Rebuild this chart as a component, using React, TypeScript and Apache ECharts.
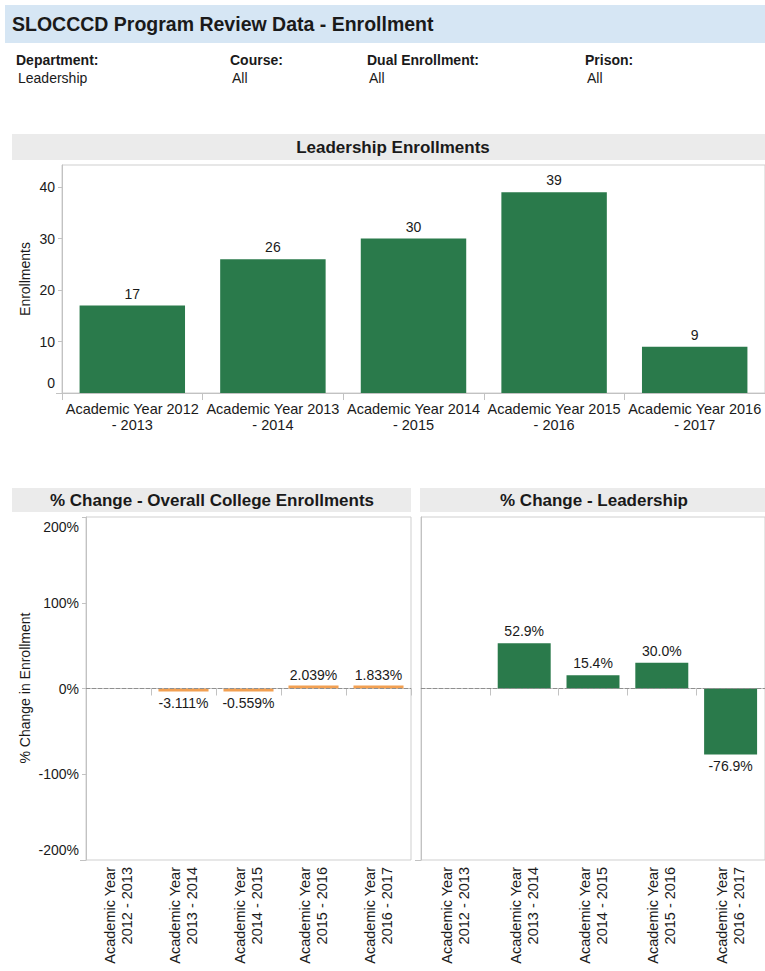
import React, { useEffect, useRef } from 'react';
import * as echarts from 'echarts';

const FONT = '"Liberation Sans", Arial, Helvetica, sans-serif';

const years = ['2012 - 2013', '2013 - 2014', '2014 - 2015', '2015 - 2016', '2016 - 2017'];
const enrollments = [17, 26, 30, 39, 9];
const collegeChange: (number | null)[] = [null, -3.111, -0.559, 2.039, 1.833];
const leadershipChange: (number | null)[] = [null, 52.9, 15.4, 30.0, -76.9];
const filterLabels = ['Department:', 'Course:', 'Dual Enrollment:', 'Prison:'];
const filterValues = ['Leadership', 'All', 'All', 'All'];
const filterX = [16, 230, 367, 585];

const GREEN = '#2a7a4b';
const ORANGE = '#f2a052';
const AXIS = '#c2c2c2';
const TEXT = '#1a1a1a';

const topCats = years.map((y) => 'Academic Year ' + y.replace(' - ', '\n- '));
const bottomCats = years.map((y) => 'Academic Year\n' + y);

function pctItems(vals: (number | null)[], decimals: number, color: string) {
  return vals.map((v) =>
    v === null
      ? { value: '-' }
      : {
          value: v,
          itemStyle: { color },
          label: {
            show: true,
            position: v < 0 ? 'bottom' : 'top',
            formatter: v.toFixed(decimals) + '%',
          },
        }
  );
}

export default function App() {
  const ref = useRef<HTMLDivElement>(null);
  useEffect(() => {
    if (!ref.current) return;
    const chart = echarts.init(ref.current, null, { renderer: 'svg' });
    const labelStyle = { fontFamily: FONT, fontSize: 14, color: TEXT };
    const pctAxis = (showLabels: boolean, gridIndex: number) => ({
      type: 'value',
      gridIndex,
      min: -200,
      max: 200,
      interval: 100,
      axisLine: { show: true, lineStyle: { color: AXIS } },
      axisTick: { show: showLabels, length: 4, lineStyle: { color: AXIS } },
      splitLine: { show: false },
      axisLabel: {
        show: showLabels,
        margin: 7,
        ...labelStyle,
        formatter: (v: number) =>
          v === 200 ? '{hi|200%}' : v === -200 ? '{lo|-200%}' : v + '%',
        rich: {
          hi: { ...labelStyle, padding: [20, 0, 0, 0] },
          lo: { ...labelStyle, padding: [0, 0, 20, 0] },
        },
      },
    });
    const bottomX = (gridIndex: number) => ({
      type: 'category',
      gridIndex,
      data: bottomCats,
      axisLine: { show: true, lineStyle: { color: AXIS } },
      axisTick: { show: true, length: 7, lineStyle: { color: AXIS } },
      axisLabel: {
        rotate: 90,
        interval: 0,
        margin: 7,
        lineHeight: 17,
        ...labelStyle,
        fontSize: 14.5,
      },
    });
    const zeroLine = {
      silent: true,
      symbol: ['none', 'none'],
      label: { show: false },
      lineStyle: { type: 'dashed', color: '#8f8f8f', width: 1 },
      data: [{ yAxis: 0 }],
    };
    const axisStub = (x1: number, y: number, x2: number) => ({
      type: 'line',
      shape: { x1, y1: y, x2, y2: y },
      style: { stroke: AXIS, lineWidth: 1 },
    });

    const graphics: any[] = [
      { type: 'rect', shape: { x: 5, y: 5, width: 760, height: 38 }, style: { fill: '#d6e6f4' } },
      {
        type: 'text',
        x: 12,
        y: 24,
        style: { text: 'SLOCCCD Program Review Data - Enrollment', font: `bold 19.5px ${FONT}`, fill: TEXT, verticalAlign: 'middle' },
      },
      { type: 'rect', shape: { x: 12, y: 134, width: 753, height: 26 }, style: { fill: '#ebebeb' } },
      {
        type: 'text',
        x: 393,
        y: 147,
        style: { text: 'Leadership Enrollments', font: `bold 17px ${FONT}`, fill: TEXT, align: 'center', verticalAlign: 'middle' },
      },
      { type: 'rect', shape: { x: 12, y: 488, width: 399, height: 24 }, style: { fill: '#ebebeb' } },
      {
        type: 'text',
        x: 212,
        y: 500,
        style: { text: '% Change - Overall College Enrollments', font: `bold 17px ${FONT}`, fill: TEXT, align: 'center', verticalAlign: 'middle' },
      },
      { type: 'rect', shape: { x: 420, y: 488, width: 345, height: 24 }, style: { fill: '#ebebeb' } },
      {
        type: 'text',
        x: 594,
        y: 500,
        style: { text: '% Change - Leadership', font: `bold 17px ${FONT}`, fill: TEXT, align: 'center', verticalAlign: 'middle' },
      },
      {
        type: 'text',
        x: 25,
        y: 279,
        rotation: Math.PI / 2,
        style: { text: 'Enrollments', font: `14px ${FONT}`, fill: TEXT, align: 'center', verticalAlign: 'middle' },
      },
      {
        type: 'text',
        x: 25,
        y: 688,
        rotation: Math.PI / 2,
        style: { text: '% Change in Enrollment', font: `14px ${FONT}`, fill: TEXT, align: 'center', verticalAlign: 'middle' },
      },
      axisStub(56, 393.5, 62),
      axisStub(80, 860.5, 86),
      axisStub(415, 860.5, 421),
    ];
    filterLabels.forEach((l, i) => {
      graphics.push({
        type: 'text',
        x: filterX[i],
        y: 60,
        style: { text: l, font: `bold 14px ${FONT}`, fill: TEXT, verticalAlign: 'middle' },
      });
      graphics.push({
        type: 'text',
        x: filterX[i] + 2,
        y: 78,
        style: { text: filterValues[i], font: `14px ${FONT}`, fill: TEXT, verticalAlign: 'middle' },
      });
    });

    chart.setOption({
      animation: false,
      backgroundColor: '#ffffff',
      textStyle: { fontFamily: FONT },
      graphic: graphics,
      grid: [
        { left: 62, top: 165, right: -7, bottom: 578, show: true, borderColor: '#cfcfcf', borderWidth: 1 },
        { left: 86, top: 517, right: 354, bottom: 111, show: true, borderColor: '#cfcfcf', borderWidth: 1 },
        { left: 421, top: 517, right: -1, bottom: 111, show: true, borderColor: '#cfcfcf', borderWidth: 1 },
      ],
      xAxis: [
        {
          type: 'category',
          gridIndex: 0,
          data: topCats,
          axisLine: { show: true, lineStyle: { color: AXIS } },
          axisTick: { show: true, length: 7, lineStyle: { color: AXIS } },
          axisLabel: { interval: 0, margin: 8, lineHeight: 16, ...labelStyle, fontSize: 14.5 },
        },
        bottomX(1),
        bottomX(2),
      ],
      yAxis: [
        {
          type: 'value',
          gridIndex: 0,
          min: 0,
          max: 44.3,
          interval: 10,
          axisLine: { show: true, lineStyle: { color: AXIS } },
          axisTick: { show: true, length: 4, lineStyle: { color: AXIS } },
          splitLine: { show: false },
          axisLabel: {
            margin: 7,
            ...labelStyle,
            showMaxLabel: false,
            formatter: (v: number) => (v === 0 ? '{lo|0}' : v % 10 === 0 ? String(v) : ''),
            rich: { lo: { ...labelStyle, padding: [0, 0, 20, 0] } },
          },
        },
        pctAxis(true, 1),
        pctAxis(false, 2),
      ],
      series: [
        {
          type: 'bar',
          xAxisIndex: 0,
          yAxisIndex: 0,
          data: enrollments,
          barCategoryGap: '25%',
          itemStyle: { color: GREEN },
          label: { show: true, position: 'top', distance: 5, ...labelStyle },
        },
        {
          type: 'bar',
          xAxisIndex: 1,
          yAxisIndex: 1,
          data: pctItems(collegeChange, 3, ORANGE),
          barCategoryGap: '23%',
          barMinHeight: 3,
          itemStyle: { color: ORANGE },
          label: { show: true, distance: 4, ...labelStyle },
          markLine: zeroLine,
        },
        {
          type: 'bar',
          xAxisIndex: 2,
          yAxisIndex: 2,
          data: pctItems(leadershipChange, 1, GREEN),
          barCategoryGap: '23%',
          itemStyle: { color: GREEN },
          label: { show: true, distance: 5, ...labelStyle },
          markLine: zeroLine,
        },
      ],
    });
    return () => chart.dispose();
  }, []);

  return (
    <div
      ref={ref}
      style={{ position: 'fixed', left: 0, top: 0, width: 765, height: 971, background: '#fff' }}
    />
  );
}
